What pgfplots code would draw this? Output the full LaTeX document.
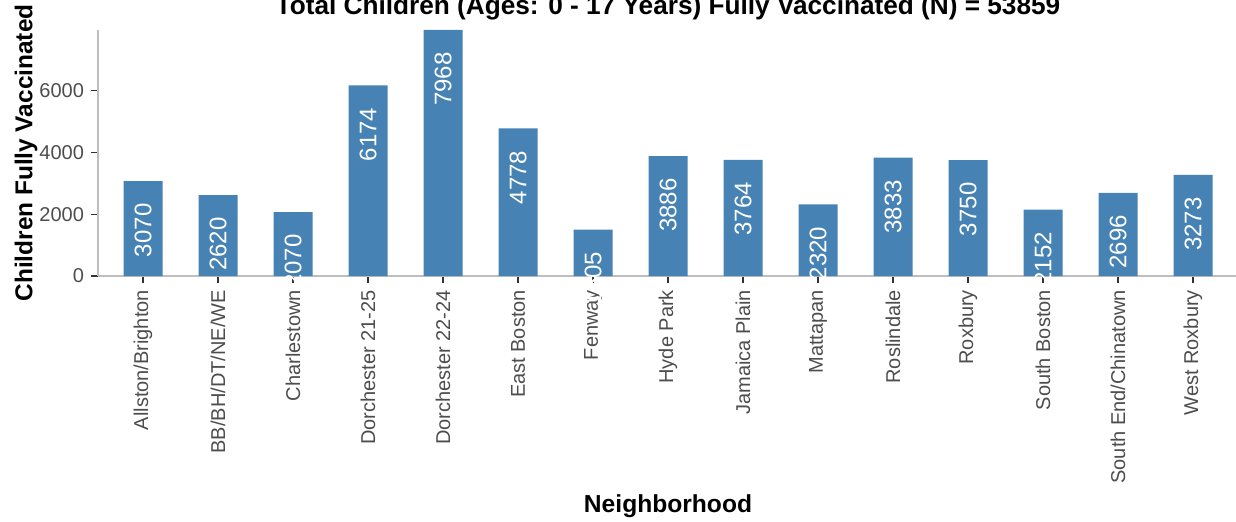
\documentclass[border=0pt]{standalone}
\usepackage{fontspec}
\setmainfont{Liberation Sans}
\usepackage{pgfplots}
\pgfplotsset{compat=1.18}

\definecolor{steel}{RGB}{70,130,180}
\definecolor{axgray}{RGB}{190,190,190}
\definecolor{tickgray}{RGB}{51,51,51}
\definecolor{labgray}{RGB}{77,77,77}

\begin{document}
\begin{tikzpicture}
  \begin{axis}[
    at={(0pt,0pt)}, anchor=south west,
    scale only axis, width=570pt, height=123pt,
    xmin=-0.6, xmax=14.6, ymin=0, ymax=7968,
    axis lines=left,
    axis line style={-, draw=axgray, line width=0.7pt},
    tick style={draw=tickgray, line width=0.7pt},
    tick align=outside, major tick length=3.5pt,
    xtick={0,...,14},
    xticklabels={Allston/Brighton, BB/BH/DT/NE/WE, Charlestown,
      Dorchester 21-25, Dorchester 22-24, East Boston, Fenway, Hyde Park,
      Jamaica Plain, Mattapan, Roslindale, Roxbury, South Boston,
      South End/Chinatown, West Roxbury},
    x tick label style={rotate=90, anchor=east, text=labgray,
      font=\fontsize{10}{12}\selectfont},
    ytick={0,2000,4000,6000},
    yticklabels={0,2000,4000,6000},
    y tick label style={text=labgray, font=\fontsize{10}{12}\selectfont},
    ybar, bar width=19.5pt,
    nodes near coords,
    every node near coord/.append style={yshift=-11pt, rotate=90,
      anchor=east, inner sep=0pt, text=white,
      font=\fontsize{12}{14}\selectfont,
      /pgf/number format/1000 sep={}, /pgf/number format/assume math mode=true},
    title={Total Children (Ages: 0 - 17 Years) Fully Vaccinated (N) = 53859},
    every axis title/.style={at={(axis description cs:0.5,1)}, anchor=base,
      yshift=7.5pt, font=\bfseries\fontsize{13.1}{15}\selectfont},
    xlabel={Neighborhood},
    every axis x label/.style={at={(axis description cs:0.5,0)},
      yshift=-115pt, anchor=center, font=\bfseries\fontsize{12.3}{14}\selectfont},
    ylabel={Children Fully Vaccinated},
    every axis y label/.style={at={(axis description cs:0,0.5)},
      xshift=-36pt, rotate=90, anchor=center,
      font=\bfseries\fontsize{12.2}{14}\selectfont},
  ]
  \addplot[fill=steel, draw=none]
    coordinates {(0,3070) (1,2620) (2,2070) (3,6174) (4,7968) (5,4778)
      (6,1505) (7,3886) (8,3764) (9,2320) (10,3833) (11,3750) (12,2152)
      (13,2696) (14,3273)};
  \end{axis}
  \pgfresetboundingbox
  \useasboundingbox (-49pt,-122.5pt) rectangle (569pt,138pt);
\end{tikzpicture}
\end{document}
